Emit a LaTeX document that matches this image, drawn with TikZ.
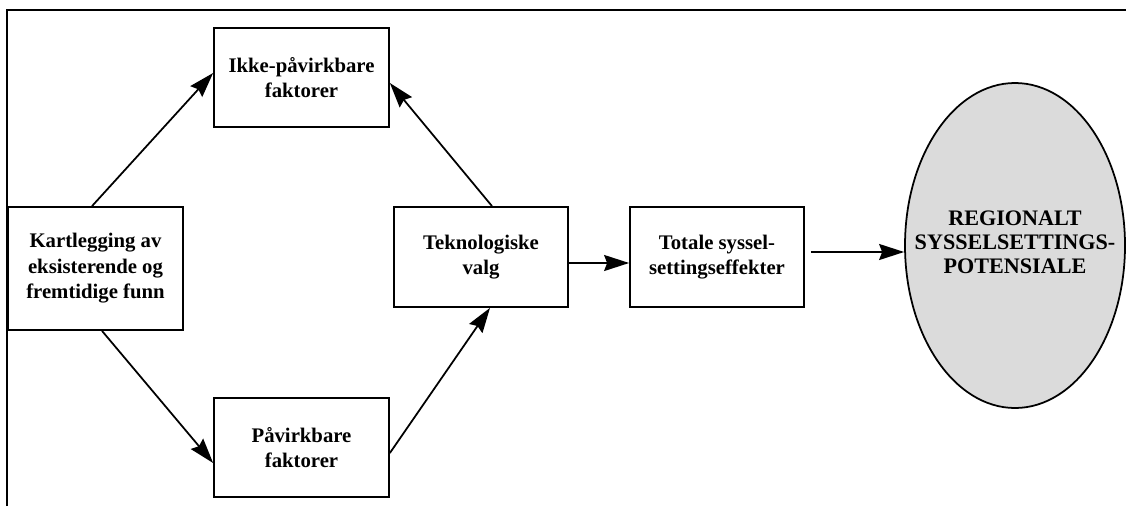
\documentclass[tikz,border=0pt]{standalone}
\usepackage{fontspec}
\setmainfont{Liberation Serif}
\usetikzlibrary{arrows.meta, shapes.geometric}

\begin{document}
\begin{tikzpicture}[
    >=Stealth,
    box/.style={
        draw=black, line width=1pt, fill=white,
        minimum width=3.5cm, minimum height=1.98cm, align=center,
        font=\fontsize{11.8}{14.5}\selectfont\bfseries, inner sep=2pt
    },
    goal/.style={
        draw=black, line width=1pt, ellipse, fill=gray!28,
        minimum width=4.4cm, minimum height=6.5cm, inner sep=0pt
    },
    goaltext/.style={
        align=center, inner sep=0pt,
        font=\fontsize{12.6}{13.6}\selectfont\bfseries
    },
    arr/.style={-{Stealth[length=5mm, width=3.2mm, inset=0.6mm]}, line width=1pt},
]
\useasboundingbox (0,0) rectangle (22.52,10.12);

%% Frame (only top and left edge visible)
\draw[line width=1pt] (0.14,0) -- (0.14,9.92) -- (22.52,9.92);

%% Starting point
\node[box, minimum height=2.46cm] (kart) at (1.91, 4.75)
    {Kartlegging av\\eksisterende og\\fremtidige funn};

%% Factors
\node[box] (ikke) at (6.03, 8.57) {Ikke-påvirkbare\\faktorer};
\node[box] (pav)  at (6.03, 1.17) {Påvirkbare\\faktorer};

\draw[arr] ([xshift=-0.07cm]kart.north) -- ([yshift=0.09cm]ikke.west);
\draw[arr] ([xshift=0.13cm]kart.south) -- ([yshift=-0.31cm]pav.west);

%% Technology choice
\node[box, minimum width=3.48cm, minimum height=2.0cm] (tek) at (9.62, 4.98)
    {Teknologiske\\valg};

\draw[arr] ([yshift=-0.11cm]pav.east) -- ([xshift=0.18cm]tek.south);
\draw[arr] ([xshift=0.22cm]tek.north) -- ([yshift=-0.11cm]ikke.east);

%% Total effects
\node[box, minimum width=3.48cm, minimum height=2.0cm] (tot) at (14.34, 4.98)
    {Totale syssel-\\settingseffekter};

\draw[arr] ([yshift=-0.12cm]tek.east) -- ([yshift=-0.12cm]tot.west);

%% Result
\node[goal] (ell) at (20.3, 5.21) {};
\node[goaltext] (elltxt) at ([yshift=0.06cm]ell.center)
    {REGIONALT\\SYSSELSETTINGS-\\POTENSIALE};

\draw[arr, shorten <=0.12cm] ([yshift=0.1cm]tot.east) -- ([yshift=0.1cm]tot.east -| ell.west);

\end{tikzpicture}
\end{document}
